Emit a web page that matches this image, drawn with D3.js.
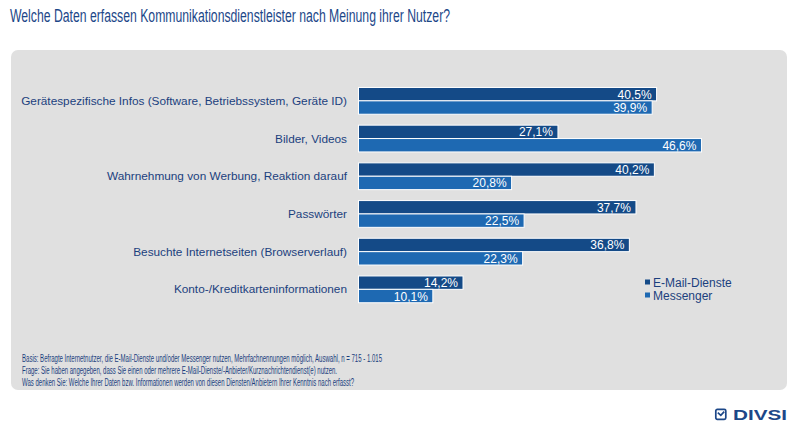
<!DOCTYPE html>
<html>
<head>
<meta charset="utf-8">
<script src="https://cdn.jsdelivr.net/npm/d3@7"></script>
<style>
  body { margin: 0; background: #fff; }
  svg { display: block; font-family: "Liberation Sans", Arial, sans-serif; }
</style>
</head>
<body>
<div id="chart"></div>
<script>
const categories = [
  'Gerätespezifische Infos (Software, Betriebssystem, Geräte ID)',
  'Bilder, Videos',
  'Wahrnehmung von Werbung, Reaktion darauf',
  'Passwörter',
  'Besuchte Internetseiten (Browserverlauf)',
  'Konto-/Kreditkarteninformationen'
];
const seriesNames = ['E-Mail-Dienste', 'Messenger'];
const emailValues = [40.5, 27.1, 40.2, 37.7, 36.8, 14.2];
const messengerValues = [39.9, 46.6, 20.8, 22.5, 22.3, 10.1];
const footnotes = [
  'Basis: Befragte Internetnutzer, die E-Mail-Dienste und/oder Messenger nutzen, Mehrfachnennungen möglich, Auswahl, n = 715 - 1.015',
  'Frage: Sie haben angegeben, dass Sie einen oder mehrere E-Mail-Dienste/-Anbieter/Kurznachrichtendienst(e) nutzen.',
  'Was denken Sie: Welche Ihrer Daten bzw. Informationen werden von diesen Diensten/Anbietern Ihrer Kenntnis nach erfasst?'
];

const width = 800, height = 438;
const colorEmail = '#144a87', colorMessenger = '#1e69b2', textColor = '#1b3f7e';
const fmt = v => d3.format('.1f')(v).replace('.', ',') + '%';

const svg = d3.select('#chart').append('svg')
    .attr('width', width)
    .attr('height', height);

/* title */
svg.append('text')
    .text('Welche Daten erfassen Kommunikationsdienstleister nach Meinung ihrer Nutzer?')
    .attr('x', 10)
    .attr('y', 22)
    .attr('font-size', 17.5)
    .attr('textLength', 440)
    .attr('lengthAdjust', 'spacingAndGlyphs')
    .attr('fill', '#1c4788');

/* grey panel */
svg.append('rect')
    .attr('x', 11).attr('y', 50)
    .attr('width', 776).attr('height', 340)
    .attr('rx', 7)
    .attr('fill', '#e0e0e0');

/* scales */
const xScale = d3.scaleLinear()
    .domain([0, 50])
    .range([358.5, 358.5 + 368]);

const yScale = d3.scaleBand()
    .domain(categories)
    .range([82, 308.2])
    .paddingInner(0.29)
    .paddingOuter(0.145);

const ySub = d3.scaleBand()
    .domain(seriesNames)
    .range([0, yScale.bandwidth()]);

const rows = categories.map((c, i) => ({
  cat: c,
  values: [
    {series: seriesNames[0], v: emailValues[i], color: colorEmail},
    {series: seriesNames[1], v: messengerValues[i], color: colorMessenger}
  ]
}));

const groups = svg.append('g').selectAll('g')
    .data(rows)
    .join('g')
    .attr('transform', d => `translate(0,${yScale(d.cat)})`);

/* category labels */
groups.append('text')
    .text(d => d.cat)
    .attr('x', 347)
    .attr('y', yScale.bandwidth() / 2 + 4)
    .attr('text-anchor', 'end')
    .attr('font-size', 11.8)
    .attr('fill', textColor);

/* bars */
groups.selectAll('rect')
    .data(d => d.values)
    .join('rect')
    .attr('x', xScale(0))
    .attr('y', d => ySub(d.series))
    .attr('width', d => xScale(d.v) - xScale(0))
    .attr('height', ySub.bandwidth())
    .attr('fill', d => d.color)
    .attr('stroke', '#fff')
    .attr('stroke-width', 1);

/* value labels */
groups.selectAll('text.val')
    .data(d => d.values)
    .join('text')
    .attr('class', 'val')
    .text(d => fmt(d.v))
    .attr('x', d => xScale(d.v) - 5)
    .attr('y', d => ySub(d.series) + ySub.bandwidth() / 2 + 4.5)
    .attr('text-anchor', 'end')
    .attr('font-size', 12)
    .attr('fill', '#fff');

/* legend */
const legend = svg.append('g').selectAll('g')
    .data(seriesNames)
    .join('g')
    .attr('transform', (d, i) => `translate(645,${282.5 + i * 13})`);

legend.append('rect')
    .attr('x', 0).attr('y', -3)
    .attr('width', 5).attr('height', 5)
    .attr('fill', (d, i) => i === 0 ? colorEmail : colorMessenger);

legend.append('text')
    .text(d => d)
    .attr('x', 8)
    .attr('y', 4)
    .attr('font-size', 12)
    .attr('fill', textColor);

/* footnotes */
const footWidths = [360, 315, 332];
svg.append('g').selectAll('text')
    .data(footnotes)
    .join('text')
    .text(d => d)
    .attr('x', 22)
    .attr('y', (d, i) => 361.5 + i * 12)
    .attr('font-size', 10)
    .attr('textLength', (d, i) => footWidths[i])
    .attr('lengthAdjust', 'spacingAndGlyphs')
    .attr('fill', textColor);

/* logo */
const logo = svg.append('g').attr('transform', 'translate(715,408.5)');
logo.append('rect')
    .attr('x', 0.8).attr('y', 0.8)
    .attr('width', 10).attr('height', 10)
    .attr('rx', 1.5)
    .attr('fill', 'none')
    .attr('stroke', '#1c4788')
    .attr('stroke-width', 1.7);
logo.append('path')
    .attr('d', 'M2.8,4.2 L5.8,6.8 L9.2,3.2')
    .attr('fill', 'none')
    .attr('stroke', '#1c4788')
    .attr('stroke-width', 1.7);
logo.append('text')
    .text('DIVSI')
    .attr('x', 18)
    .attr('y', 11.2)
    .attr('font-size', 15.5)
    .attr('font-weight', 'bold')
    .attr('textLength', 54)
    .attr('lengthAdjust', 'spacingAndGlyphs')
    .attr('fill', '#1c4788');
</script>
</body>
</html>
